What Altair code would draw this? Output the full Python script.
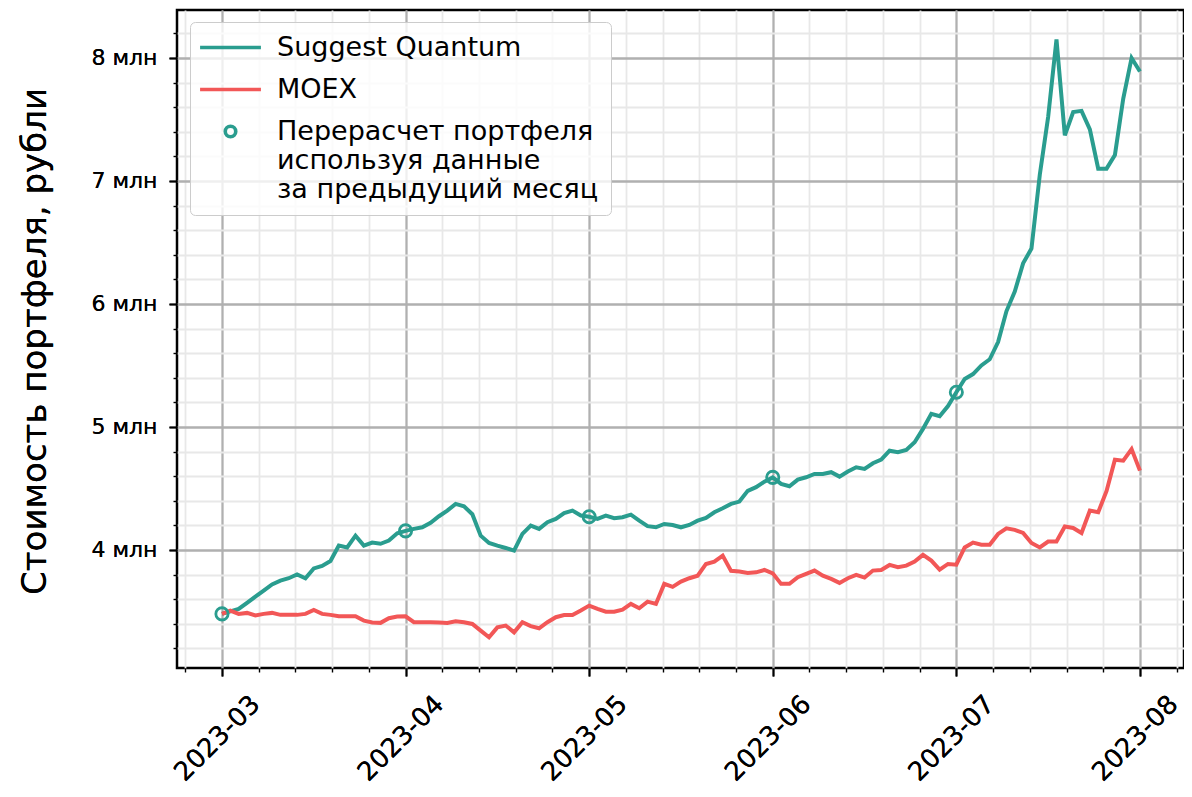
import json
import altair as alt
import pandas as pd

# ---------------- data (values in millions of rubles) ----------------
suggest_quantum = [
    3.48, 3.50, 3.52, 3.57, 3.62, 3.67, 3.72, 3.75, 3.77, 3.80,
    3.77, 3.85, 3.87, 3.91, 4.035, 4.02, 4.116, 4.035, 4.06, 4.05,
    4.076, 4.135, 4.155,
    4.171, 4.184, 4.22, 4.274, 4.32, 4.374, 4.355, 4.29, 4.116, 4.057,
    4.035, 4.016, 3.995, 4.13, 4.198, 4.171, 4.225, 4.252, 4.30, 4.32,
    4.28, 4.27,
    4.252, 4.279, 4.258, 4.266, 4.287, 4.238, 4.193, 4.184, 4.211, 4.203,
    4.184, 4.203, 4.238, 4.26, 4.306, 4.339, 4.374, 4.393, 4.48, 4.51,
    4.555, 4.59,
    4.537, 4.518, 4.572, 4.591, 4.618, 4.618, 4.632, 4.596, 4.637, 4.672,
    4.659, 4.705, 4.734, 4.807, 4.794, 4.813, 4.876, 4.984, 5.106, 5.087,
    5.17, 5.282,
    5.39, 5.43, 5.50, 5.55, 5.69, 5.94, 6.10, 6.33, 6.45, 7.05,
    7.52, 8.15, 7.37, 7.56, 7.57, 7.42, 7.10, 7.10, 7.21, 7.67,
    8.00, 7.89,
]
moex = [
    3.48, 3.507, 3.48, 3.488, 3.467, 3.48, 3.488, 3.472, 3.472, 3.472,
    3.48, 3.512, 3.48, 3.472, 3.46, 3.46, 3.46, 3.425, 3.41, 3.407,
    3.445, 3.459, 3.46,
    3.412, 3.412, 3.412, 3.41, 3.406, 3.42, 3.412, 3.398, 3.344, 3.29,
    3.37, 3.385, 3.33, 3.412, 3.38, 3.363, 3.412, 3.453, 3.47, 3.47,
    3.507, 3.547,
    3.52, 3.498, 3.498, 3.515, 3.561, 3.526, 3.58, 3.561, 3.724, 3.70,
    3.742, 3.77, 3.79, 3.886, 3.905, 3.954, 3.83, 3.824, 3.813, 3.818,
    3.837, 3.81,
    3.724, 3.724, 3.778, 3.805, 3.832, 3.791, 3.764, 3.732, 3.77, 3.797,
    3.775, 3.832, 3.837, 3.878, 3.859, 3.872, 3.905, 3.96, 3.913, 3.84,
    3.886, 3.88,
    4.02, 4.06, 4.043, 4.043, 4.13, 4.176, 4.163, 4.138, 4.057, 4.02,
    4.068, 4.068, 4.19, 4.179, 4.138, 4.32, 4.306, 4.48, 4.734, 4.726,
    4.82, 4.645,
]
month_labels = ["2023-03", "2023-04", "2023-05", "2023-06", "2023-07", "2023-08"]
month_index = [0, 22, 44, 66, 88, 110]
rebalance_index = [0, 22, 44, 66, 88]
series_names = [
    "Suggest Quantum",
    "MOEX",
    "Перерасчет портфеля используя данные за предыдущий месяц",
]
rebalance_label_lines = ["Перерасчет портфеля", "используя данные", "за предыдущий месяц"]
y_major = [4, 5, 6, 7, 8]
y_title = "Стоимость портфеля, рубли"

# ---------------- styling ----------------
FONT = "DejaVu Sans"
GREEN = "#2a9d8f"
RED = "#f25757"
LINE_SYMBOL = "M-5.8,0H5.8"
MAJOR_GRID = "#b0b0b0"
MINOR_GRID = "#e8e8e8"

lines_df = pd.DataFrame({
    "idx": list(range(len(suggest_quantum))) + list(range(len(moex))),
    "value": suggest_quantum + moex,
    "series": [series_names[0]] * len(suggest_quantum) + [series_names[1]] * len(moex),
})
points_df = pd.DataFrame({
    "idx": rebalance_index,
    "value": [suggest_quantum[i] for i in rebalance_index],
    "series": [series_names[2]] * len(rebalance_index),
})

step = month_index[1] - month_index[0]
minor_x = [m * step / 5 for m in range(-1, 27) if m % 5 != 0]
minor_y = [round(3.2 + 0.2 * k, 2) for k in range(26) if k % 5 != 4]

x_scale = alt.Scale(domain=[-5.39, 115.28], nice=False, zero=False)
y_scale = alt.Scale(domain=[3.04, 8.39], nice=False, zero=False)
color_scale = alt.Scale(domain=series_names, range=[GREEN, RED, GREEN])
shape_scale = alt.Scale(domain=series_names, range=[LINE_SYMBOL, LINE_SYMBOL, "circle"])

legend_label_expr = (
    "datum.label == " + json.dumps(series_names[2], ensure_ascii=False)
    + " ? " + json.dumps(rebalance_label_lines, ensure_ascii=False) + " : datum.label"
)
legend = alt.Legend(
    title=None, orient="none", legendX=13, legendY=12, direction="vertical",
    labelFont=FONT, labelFontSize=27, labelColor="black", labelLimit=600,
    labelExpr=legend_label_expr, symbolSize=110, symbolStrokeWidth=3.6,
    symbolOffset=15, labelOffset=33, padding=12, rowPadding=14,
    fillColor="rgba(255,255,255,0.8)", strokeColor="#cccccc", cornerRadius=5,
)

x_label_expr = f"{json.dumps(month_labels)}[indexof({json.dumps(month_index)}, datum.value)]"

minor = alt.Chart(lines_df).mark_point(opacity=0).encode(
    x=alt.X("idx:Q", scale=x_scale, axis=alt.Axis(
        values=minor_x, orient="bottom", grid=True, gridColor=MINOR_GRID, gridWidth=1.8,
        tickSize=4, tickWidth=1.4, tickColor="black", labels=False, domain=False, title=None)),
    y=alt.Y("value:Q", scale=y_scale, axis=alt.Axis(
        values=minor_y, orient="left", grid=True, gridColor=MINOR_GRID, gridWidth=1.8,
        tickSize=4, tickWidth=1.4, tickColor="black", labels=False, domain=False, title=None)),
)

x_major_axis = alt.Axis(
    values=month_index, orient="bottom", grid=True, gridColor=MAJOR_GRID, gridWidth=1.8,
    tickSize=8, tickWidth=1.8, tickColor="black", domain=False, title=None,
    labelExpr=x_label_expr, labelAngle=315, labelAlign="center", labelBaseline="middle",
    labelPadding=62, labelOffset=-5, labelFont=FONT, labelFontSize=26, labelColor="black",
    labelFlush=False, labelOverlap=False,
)
y_major_axis = alt.Axis(
    values=y_major, orient="left", grid=True, gridColor=MAJOR_GRID, gridWidth=1.8,
    tickSize=8, tickWidth=1.8, tickColor="black", domain=False,
    labelExpr="datum.value + ' млн'", labelPadding=12, labelFont=FONT, labelFontSize=22,
    labelColor="black", labelFlush=False, labelOverlap=False,
    title=y_title, titleFont=FONT, titleFontSize=34, titleFontWeight="normal",
    titleColor="black", titleX=-142, titleY=331, titleAngle=270,
    titleAlign="center", titleBaseline="middle",
)

lines = alt.Chart(lines_df).mark_line(strokeWidth=4).encode(
    x=alt.X("idx:Q", scale=x_scale, axis=x_major_axis),
    y=alt.Y("value:Q", scale=y_scale, axis=y_major_axis),
    color=alt.Color("series:N", scale=color_scale, legend=legend),
    detail="series:N",
)

points = alt.Chart(points_df).mark_point(filled=False, strokeWidth=2.8, size=150, opacity=1).encode(
    x=alt.X("idx:Q", scale=x_scale, axis=x_major_axis),
    y=alt.Y("value:Q", scale=y_scale, axis=y_major_axis),
    color=alt.Color("series:N", scale=color_scale, legend=legend),
    shape=alt.Shape("series:N", scale=shape_scale, legend=legend),
)

chart = alt.layer(minor, lines, points).resolve_axis(
    x="independent", y="independent"
).properties(
    width=1007, height=658,
    autosize=alt.AutoSizeParams(type="none"),
    padding={"left": 169, "top": 2, "right": 0, "bottom": 121},
    background="white",
).configure_view(
    stroke="black", strokeWidth=2.5,
)

chart.save("out.html", embed_options={"renderer": "svg", "actions": False})
